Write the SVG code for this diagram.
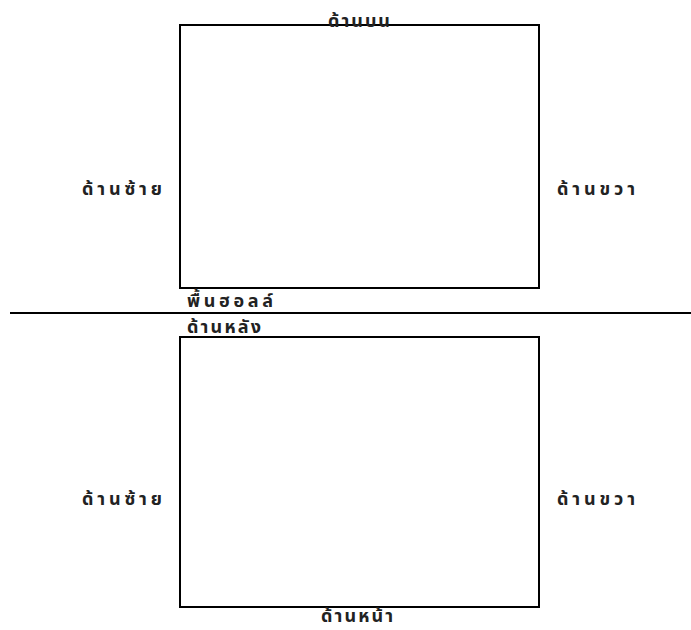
<svg xmlns="http://www.w3.org/2000/svg" width="691" height="630" viewBox="0 0 691 630">
<style>
.box{fill:none;stroke:#000;stroke-width:2}
.ln{stroke:#000;stroke-width:2}
.t{font-family:"Noto Sans Thai","Noto Sans","DejaVu Sans",sans-serif;font-size:18px;font-weight:bold;fill:#222}
</style>
<rect width="691" height="630" fill="#fff"/>
<g id="connectors">
<line class="ln" x1="10" y1="313" x2="691" y2="313"/>
</g>
<g id="top-room">
<rect class="box" x="180" y="25" width="359" height="263"/>
</g>
<g id="bottom-room">
<rect class="box" x="180" y="337" width="359" height="270"/>
</g>
<g id="labels">
<text class="t" x="359" y="27" text-anchor="middle" textLength="62" lengthAdjust="spacing">ด้านบน</text>
<text class="t" x="122" y="195" text-anchor="middle" textLength="80" lengthAdjust="spacing">ด้านซ้าย</text>
<text class="t" x="596" y="195" text-anchor="middle" textLength="78" lengthAdjust="spacing">ด้านขวา</text>
<text class="t" x="187" y="307" textLength="86" lengthAdjust="spacing">พื้นฮอลล์</text>
<text class="t" x="187" y="333" textLength="74" lengthAdjust="spacing">ด้านหลัง</text>
<text class="t" x="122" y="505" text-anchor="middle" textLength="80" lengthAdjust="spacing">ด้านซ้าย</text>
<text class="t" x="596" y="505" text-anchor="middle" textLength="78" lengthAdjust="spacing">ด้านขวา</text>
<text class="t" x="357" y="622" text-anchor="middle" textLength="72" lengthAdjust="spacing">ด้านหน้า</text>
</g>
</svg>
